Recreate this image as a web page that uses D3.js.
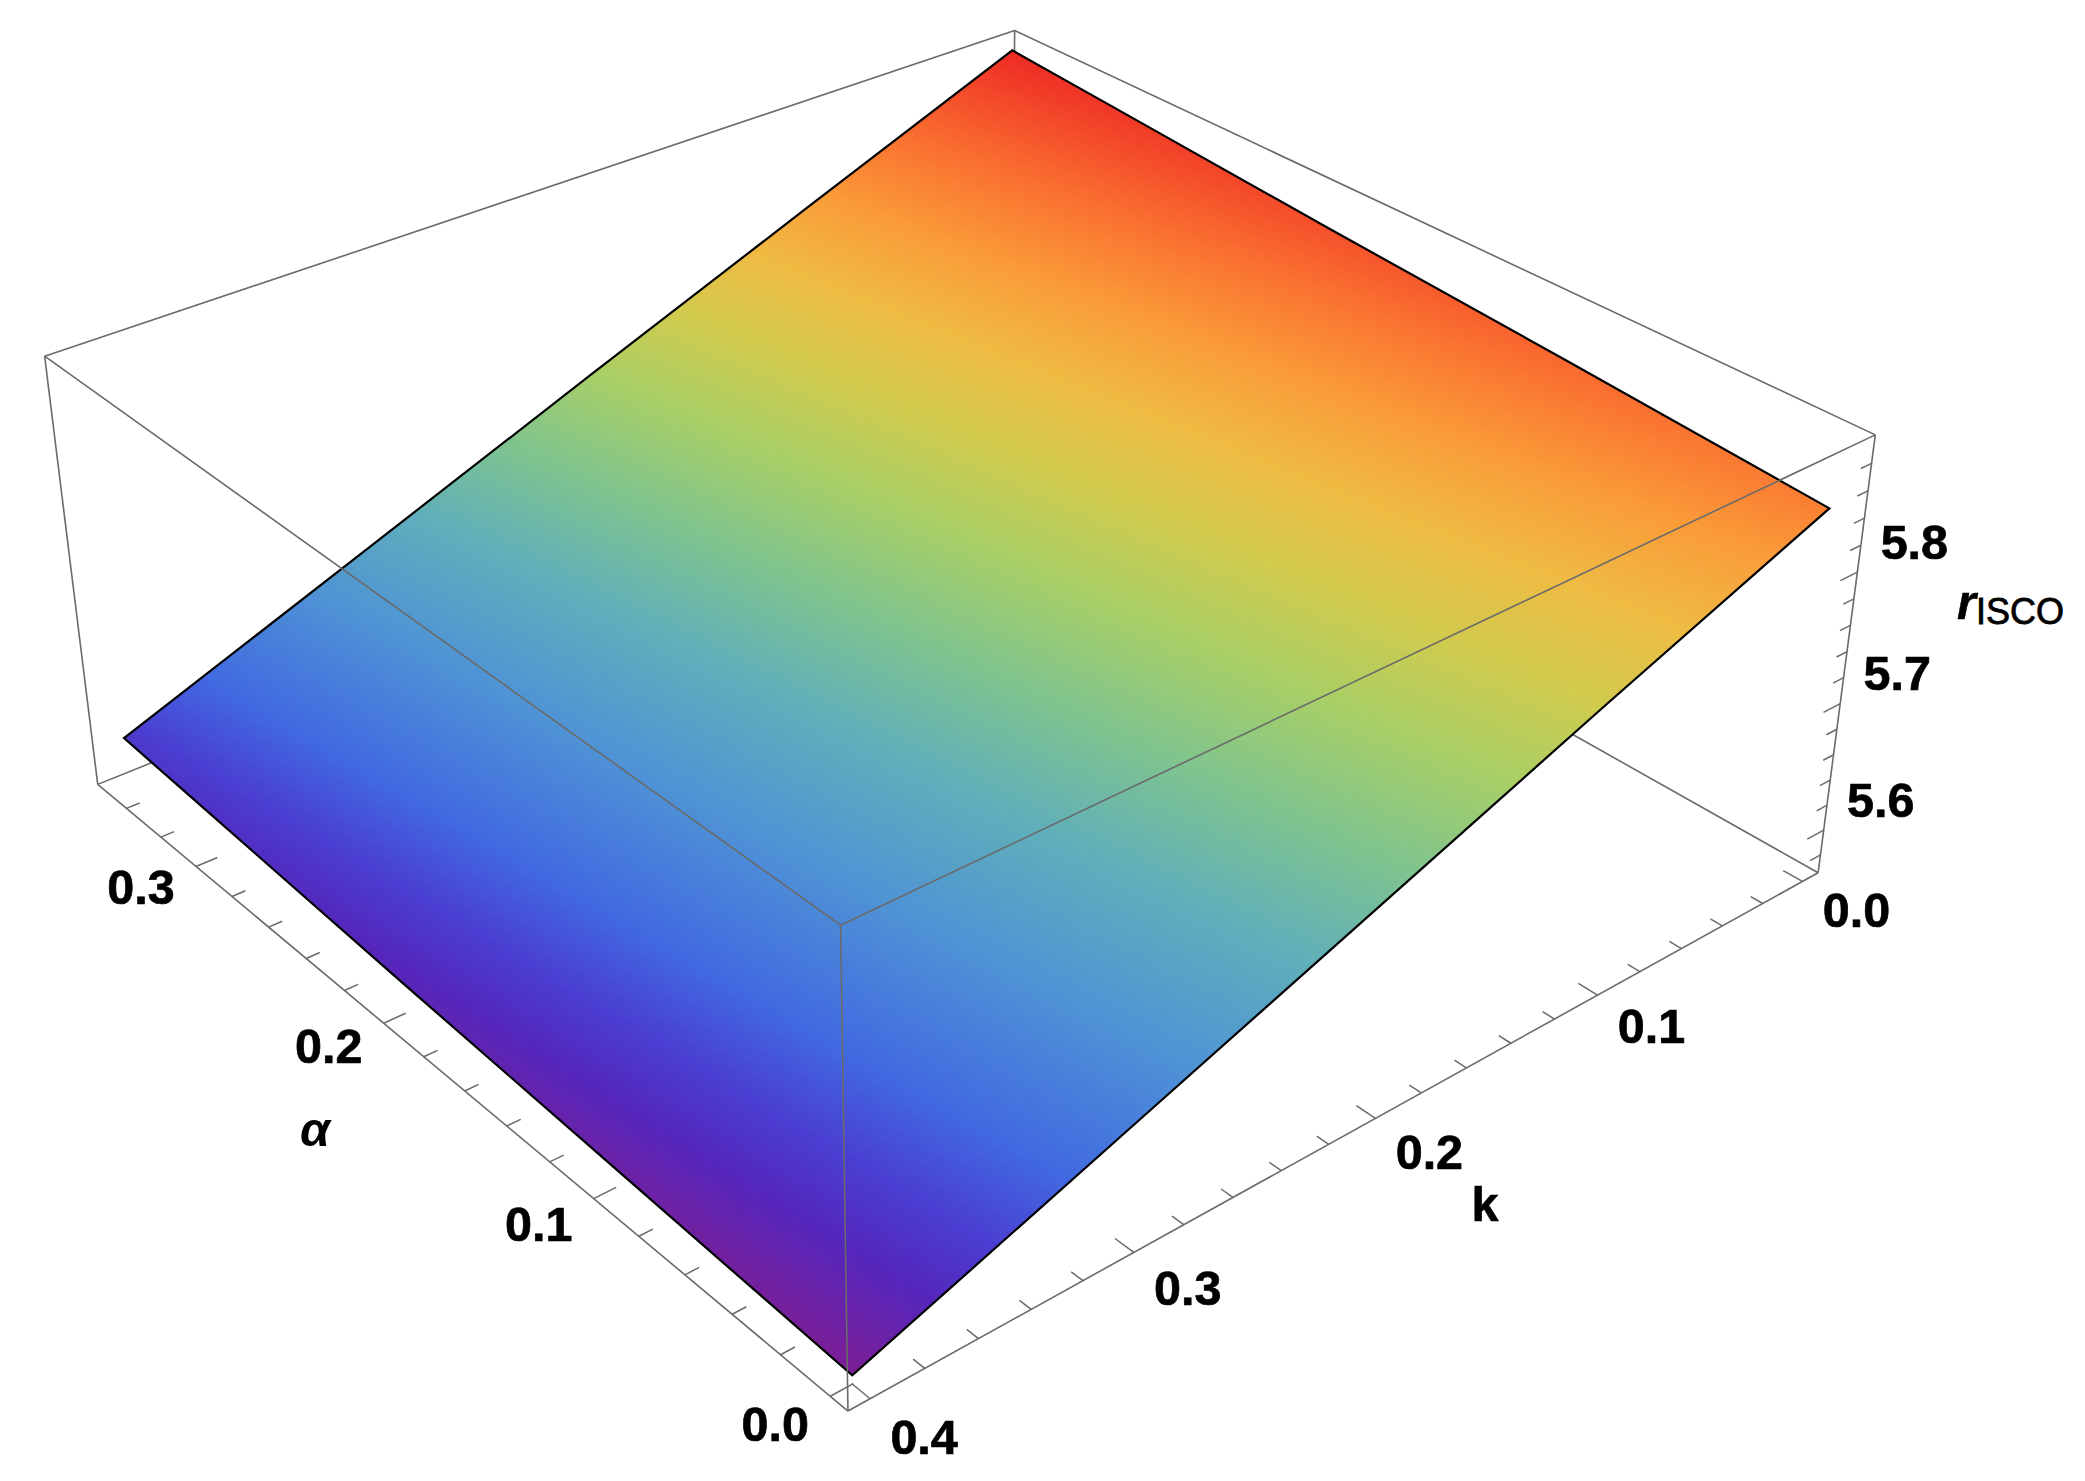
<!DOCTYPE html>
<html><head><meta charset="utf-8">
<script src="https://cdn.jsdelivr.net/npm/d3@7/dist/d3.min.js"></script>
<style>html,body{margin:0;padding:0;background:#fff}svg{display:block}text{font-family:"Liberation Sans",Arial,sans-serif;fill:#000}</style>
</head><body><svg id="c" width="2085" height="1481"></svg>
<script>
// ---- data ----
const alphaGrid = [0, 0.1, 0.2, 0.3, 0.35];
const kGrid = [0, 0.1, 0.2, 0.3, 0.4];
const rIsco0 = [5.846, 5.779, 5.710, 5.641, 5.572];   // alpha = 0
const rIsco1 = [5.860, 5.792, 5.722, 5.652, 5.581];   // alpha = 0.1
const rIsco2 = [5.873, 5.804, 5.733, 5.662, 5.590];   // alpha = 0.2
const rIsco3 = [5.887, 5.817, 5.745, 5.672, 5.600];   // alpha = 0.3
const rIsco4 = [5.894, 5.823, 5.751, 5.678, 5.605];   // alpha = 0.35
const alphaLabels = ["0.0", "0.1", "0.2", "0.3"];
const kLabels = ["0.0", "0.1", "0.2", "0.3", "0.4"];
const rLabels = ["5.6", "5.7", "5.8"];
const alphaRange = [-0.007, 0.357];
const kRange = [-0.008, 0.408];
const rRange = [5.5655, 5.9005];
const colorT = [0, 0.065, 0.115, 0.175, 0.28, 0.38, 0.47, 0.56, 0.64, 0.72, 0.80, 0.88, 1];
const colorV = ["#7C1F96","#5526BC","#4A3FD2","#4169E1","#4F93D5","#60AFBA","#7FC48E","#A8CF66","#D0CB4E","#EFBB43","#FA9A38","#FA7030","#EE2A24"];

// ---- camera: box corners on screen, fitted to a projective 3x4 matrix ----
const cornersCube = [[0,1,0],[0,1,1],[0,0,0],[0,0,1],[1,1,0],[1,1,1],[1,0,1]];
const cornersScreen = [[849,1410],[840,927],[1818,874],[1875,433],[97,784],[45,356],[1015,31]];
function fitCamera(){
  const A=[],b=[];
  cornersCube.forEach((c,i)=>{const [X,Y,Z]=c,[x,y]=cornersScreen[i];
    A.push([X,Y,Z,1,0,0,0,0,-x*X,-x*Y,-x*Z]);b.push(x);
    A.push([0,0,0,0,X,Y,Z,1,-y*X,-y*Y,-y*Z]);b.push(y);});
  const n=11,M=[];
  for(let i=0;i<n;i++){M[i]=[];for(let j=0;j<=n;j++){let s=0;for(let r=0;r<A.length;r++)s+=A[r][i]*(j<n?A[r][j]:b[r]);M[i][j]=s;}}
  for(let i=0;i<n;i++){let p=i;for(let r=i+1;r<n;r++)if(Math.abs(M[r][i])>Math.abs(M[p][i]))p=r;[M[i],M[p]]=[M[p],M[i]];
    for(let r=0;r<n;r++){if(r===i)continue;const f=M[r][i]/M[i][i];for(let j=i;j<=n;j++)M[r][j]-=f*M[i][j];}}
  return M.map((row,i)=>row[n]/row[i]);
}
const P=fitCamera();
const ax=d3.scaleLinear().domain(alphaRange).range([0,1]);
const kx=d3.scaleLinear().domain(kRange).range([0,1]);
const rx=d3.scaleLinear().domain(rRange).range([0,1]);
function cube(u,v,w){const d=P[8]*u+P[9]*v+P[10]*w+1;
  return [(P[0]*u+P[1]*v+P[2]*w+P[3])/d,(P[4]*u+P[5]*v+P[6]*w+P[7])/d];}
const proj=(a,k,r)=>cube(ax(a),kx(k),rx(r));

const svg=d3.select("#c");
svg.append("rect").attr("width",2085).attr("height",1481).attr("fill","#fff");
const line=d3.line();
const boxColor="#6a6a6a";
function edge(g,c1,c2,w){g.append("path").attr("d",line([cube(...c1),cube(...c2)])).attr("fill","none").attr("stroke",boxColor).attr("stroke-width",w||1.6);}

// back box edges (behind surface)
const back=svg.append("g");
[[[1,0,0],[1,0,1]],[[1,0,0],[1,1,0]],[[1,0,0],[0,0,0]],[[1,0,1],[1,1,1]],[[1,0,1],[0,0,1]],[[1,1,0],[1,1,1]],[[0,0,0],[0,0,1]],[[1,1,0],[0,1,0]],[[0,1,0],[0,0,0]]]
 .forEach(e=>edge(back,e[0],e[1]));

// ticks
const ticks=svg.append("g").attr("stroke",boxColor).attr("stroke-width",1.5).attr("fill","none");
const MAJ=0.02,MIN=0.0125;
const isMajor=(v)=>Math.abs(v*10-Math.round(v*10))<1e-6;
d3.range(0,18).map(i=>+(i*0.02).toFixed(2)).forEach(a=>{const l=isMajor(a)?MAJ:MIN,u=ax(a);
  ticks.append("path").attr("d",line([cube(u,1,0),cube(u,1-l,0)]));});
d3.range(0,21).map(i=>+(i*0.02).toFixed(2)).forEach(k=>{const l=isMajor(k)?MAJ:MIN,v=kx(k);
  ticks.append("path").attr("d",line([cube(0,v,0),cube(l,v,0)]));});
d3.range(0,16).map(i=>+(5.58+i*0.02).toFixed(2)).forEach(r=>{const l=isMajor(r)?MAJ:MIN,w=rx(r);
  ticks.append("path").attr("d",line([cube(0,0,w),cube(0,l,w)]));});

// surface
const rows=[rIsco0,rIsco1,rIsco2,rIsco3,rIsco4];
const zMin=d3.min(rows,d=>d3.min(d)),zMax=d3.max(rows,d=>d3.max(d));
const color=d3.scaleLinear().domain(colorT.map(t=>zMin+t*(zMax-zMin))).range(colorV).interpolate(d3.interpolateRgb);
const aIdx=d3.scaleLinear().domain(alphaGrid).range(d3.range(alphaGrid.length));
const kIdx=d3.scaleLinear().domain(kGrid).range(d3.range(kGrid.length));
function surf(a,k){
  const x=aIdx(a),y=kIdx(k);
  const i=Math.min(Math.floor(x),alphaGrid.length-2),j=Math.min(Math.floor(y),kGrid.length-2);
  const fx=x-i,fy=y-j;
  return (rows[i][j]*(1-fx)+rows[i+1][j]*fx)*(1-fy)+(rows[i][j+1]*(1-fx)+rows[i+1][j+1]*fx)*fy;
}
const N=170;
const aS=d3.scaleLinear().domain([0,N]).range(d3.extent(alphaGrid));
const kS=d3.scaleLinear().domain([0,N]).range(d3.extent(kGrid));
const cells=[];
for(let i=0;i<N;i++)for(let j=0;j<N;j++)cells.push([i,j]);
const pt=(i,j)=>{const a=aS(i),k=kS(j);return proj(a,k,surf(a,k));};
svg.append("g").attr("shape-rendering","crispEdges").selectAll("path").data(cells).join("path")
  .attr("d",d=>line([pt(d[0],d[1]),pt(d[0]+1,d[1]),pt(d[0]+1,d[1]+1),pt(d[0],d[1]+1)])+"Z")
  .attr("fill",d=>color(surf(aS(d[0]+.5),kS(d[1]+.5))))
  .attr("stroke",d=>color(surf(aS(d[0]+.5),kS(d[1]+.5))))
  .attr("stroke-width",1);
// surface outline
const outline=[];
alphaGrid.forEach(a=>outline.push([a,kGrid[0]]));
kGrid.slice(1).forEach(k=>outline.push([alphaGrid[alphaGrid.length-1],k]));
alphaGrid.slice(0,-1).reverse().forEach(a=>outline.push([a,kGrid[kGrid.length-1]]));
kGrid.slice(1,-1).reverse().forEach(k=>outline.push([alphaGrid[0],k]));
svg.append("path").attr("d",line(outline.map(d=>proj(d[0],d[1],surf(d[0],d[1]))))+"Z")
  .attr("fill","none").attr("stroke","#000").attr("stroke-width",2.2).attr("stroke-linejoin","miter");

// front edges over surface
const front=svg.append("g");
[[[0,1,0],[0,1,1]],[[0,1,1],[1,1,1]],[[0,1,1],[0,0,1]]].forEach(e=>edge(front,e[0],e[1]));

// labels
const FS=48.5;
function label(xy,t){return svg.append("text").attr("x",xy[0]).attr("y",xy[1]).attr("dy","0.36em").attr("text-anchor","middle").attr("font-size",FS).attr("font-weight","bold").attr("stroke","#000").attr("stroke-width",0.7).text(t);}
alphaLabels.forEach(l=>{const p=cube(ax(+l),1,0);label([p[0]-55,p[1]+27-22*(+l)],l);});
kLabels.forEach(l=>{const p=cube(0,kx(+l),0);label([p[0]+54,p[1]+33+(+l-0.2)*25],l);});
rLabels.forEach(l=>{const p=cube(0,0,rx(+l));label([p[0]+57,p[1]-31],l);});
svg.append("text").attr("x",315).attr("y",1132).attr("dy","0.28em").attr("text-anchor","middle").attr("font-size",FS).attr("font-weight","bold").attr("font-style","italic").text("α");
label([1485,1204],"k");
const rl=svg.append("text").attr("x",1957).attr("y",619).attr("font-size",FS);
rl.append("tspan").attr("font-style","italic").attr("font-weight","bold").attr("stroke","#000").attr("stroke-width",0.5).text("r");
rl.append("tspan").attr("font-size",36).attr("dy",5).attr("stroke","#000").attr("stroke-width",0.8).text("ISCO");
</script></body></html>
